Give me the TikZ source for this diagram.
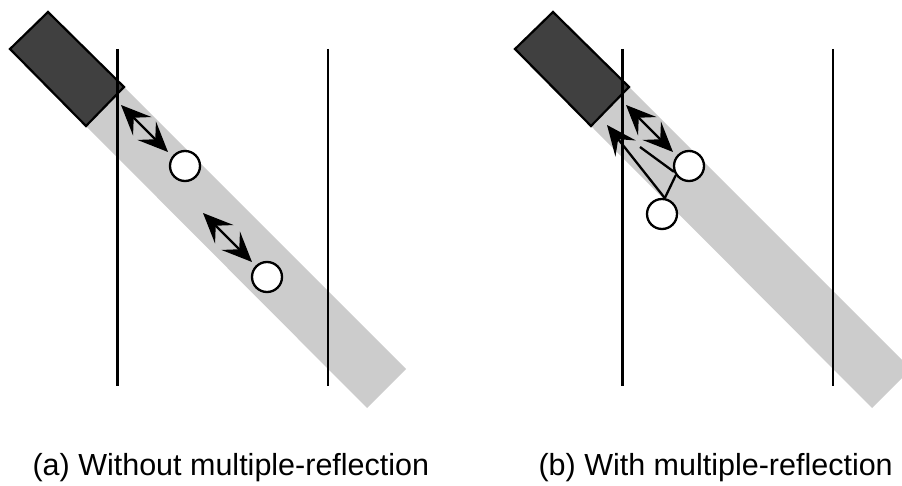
\documentclass[tikz,border=0pt]{standalone}
\usepackage{fontspec}
\setmainfont{Liberation Sans}
\usetikzlibrary{arrows.meta}
\tikzset{
  beam/.style={fill=black!20},
  sensor/.style={fill=black!75,draw=black,line width=2.2pt,line join=miter},
  wall/.style={line width=2.8pt},
  target/.style={circle,draw=black,fill=white,line width=2.3pt,minimum size=30pt,inner sep=0pt},
  ray/.style={line width=2.3pt},
  tipx/.tip={Stealth[length=30pt,width=26pt,inset=12pt]},
  echo/.style={ray,tipx-tipx},
  back/.style={ray,-tipx},
  caption/.style={anchor=base west,font=\fontsize{30.5}{36}\selectfont}
}
\begin{document}
\begin{tikzpicture}[x=1pt,y=-1pt]
\useasboundingbox (0,0) rectangle (902,486);
% ---------- panel (a)
\begin{scope}
  \fill[beam] (124,87) -- (406,369) -- (367,408) -- (86,126) -- cycle;
  \draw[sensor] (48,12) -- (124,87) -- (86,126) -- (10,49) -- cycle;
  \draw[wall] (117.5,49) -- (117.5,386);
  \draw[wall] (328,49) -- (328,386);
  \node[target] (a1) at (185,166) {};
  \node[target] (a2) at (267,277) {};
  \coordinate (as1) at (121,105);
  \coordinate (at1) at (168,152);
  \coordinate (as2) at (203,213);
  \coordinate (at2) at (252,262);
  \draw[echo] (as1) -- (at1);
  \draw[echo] (as2) -- (at2);
\end{scope}
% ---------- panel (b)
\begin{scope}[xshift=505]
  \fill[beam] (124,87) -- (406,369) -- (367,408) -- (86,126) -- cycle;
  \draw[sensor] (48,12) -- (124,87) -- (86,126) -- (10,49) -- cycle;
  \draw[wall] (117.5,49) -- (117.5,386);
  \draw[wall] (328,49) -- (328,386);
  \coordinate (bs1) at (121,105);
  \coordinate (bt1) at (168,152);
  \coordinate (bl) at (135,147);
  \coordinate (br) at (102,125);
  \node[target] (b1) at (184,166) {};
  \node[target] (b2) at (157,214) {};
  \draw[echo] (bs1) -- (bt1);
  \draw[ray] (bl) -- (b1.201);
  \draw[ray] (b1.215) -- (b2.80);
  \draw[back] (b2.80) -- (br);
\end{scope}
% ---------- captions
\node[caption] (capa) at (29,475) {(a) Without multiple-reflection};
\node[caption] (capb) at (535,475) {(b) With multiple-reflection};
\end{tikzpicture}
\end{document}
